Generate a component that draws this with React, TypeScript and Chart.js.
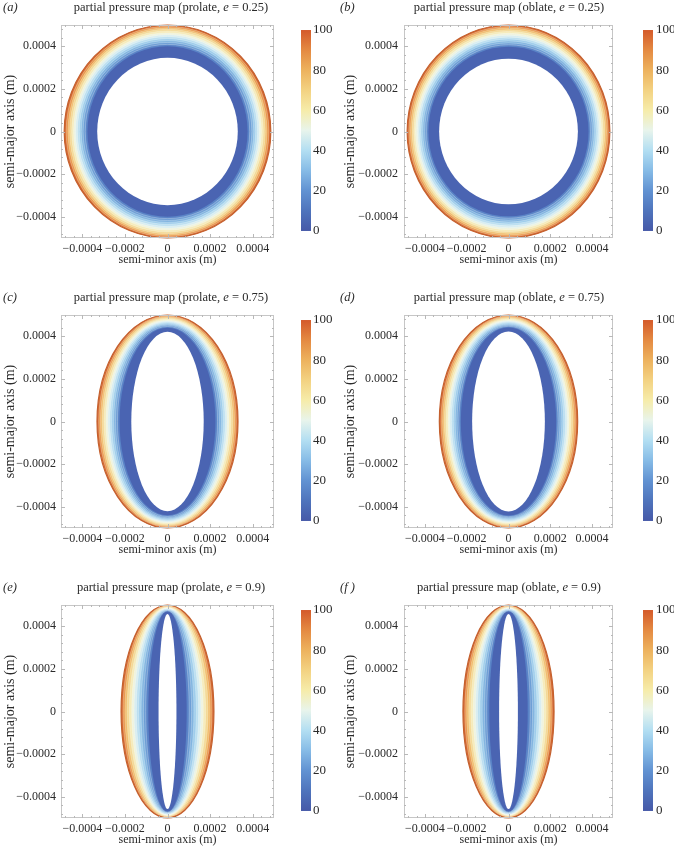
import React, { useEffect, useRef } from "react";
import { Chart, registerables } from "chart.js";

Chart.register(...registerables);

// ---------- data ----------
const AXIS_TICKS = [-0.0004, -0.0002, 0, 0.0002, 0.0004];
const CB_TICKS = [0, 20, 40, 60, 80, 100];
const CONTOUR_LEVELS = [0, 10, 17.5, 25, 32.5, 40, 47.5, 55, 62.5, 70, 77.5, 85, 92.5, 100];

// colour map of the colour bar (value, colour)
const CMAP_VALUES = [0, 10, 20, 30, 40, 50, 60, 70, 80, 90, 100];
const CMAP_COLORS = ["#4659a8", "#4f74bc", "#6192d2", "#86bbe6", "#b2def2", "#e8f4ec", "#f6ecaa", "#f3d282", "#edb25e", "#e48a42", "#d45a2a"];

// fill colours of the bands between successive contour levels (inner -> outer)
const BAND_COLORS = ["#4a64b2", "#5a84c7", "#6d9ed5", "#82b5e0", "#9ecdeb", "#bbdff0", "#d8edf0", "#eef3df", "#f5ebba", "#f3d995", "#f0bd6c", "#e8974b", "#d4672f"];

// semi-minor (b) and semi-major (a) of each contour, units of 1e-4 m
const PROLATE_025_B = [3.30, 3.76, 3.86, 3.96, 4.05, 4.14, 4.23, 4.32, 4.41, 4.50, 4.59, 4.67, 4.76, 4.85];
const PROLATE_025_A = [3.46, 4.00, 4.09, 4.18, 4.27, 4.36, 4.45, 4.54, 4.63, 4.72, 4.80, 4.87, 4.94, 5.00];
const OBLATE_025_B = [3.32, 3.83, 3.92, 4.01, 4.10, 4.19, 4.28, 4.36, 4.45, 4.53, 4.61, 4.69, 4.77, 4.85];
const OBLATE_025_A = [3.42, 3.98, 4.07, 4.16, 4.25, 4.34, 4.43, 4.52, 4.61, 4.70, 4.78, 4.86, 4.93, 5.00];
const PROLATE_075_B = [1.70, 2.25, 2.35, 2.44, 2.53, 2.62, 2.71, 2.80, 2.89, 2.98, 3.07, 3.15, 3.23, 3.31];
const PROLATE_075_A = [4.21, 4.40, 4.46, 4.52, 4.57, 4.62, 4.67, 4.72, 4.77, 4.82, 4.87, 4.92, 4.96, 5.00];
const OBLATE_075_B = [1.74, 2.28, 2.37, 2.46, 2.55, 2.64, 2.73, 2.82, 2.90, 2.99, 3.07, 3.15, 3.23, 3.31];
const OBLATE_075_A = [4.22, 4.41, 4.47, 4.52, 4.57, 4.62, 4.67, 4.72, 4.77, 4.82, 4.87, 4.92, 4.96, 5.00];
const PROLATE_09_B = [0.42, 0.90, 1.02, 1.13, 1.24, 1.35, 1.46, 1.57, 1.68, 1.79, 1.90, 2.00, 2.09, 2.18];
const PROLATE_09_A = [4.58, 4.70, 4.73, 4.755, 4.78, 4.80, 4.825, 4.85, 4.87, 4.89, 4.92, 4.95, 4.975, 5.00];
const OBLATE_09_B = [0.45, 0.92, 1.04, 1.15, 1.26, 1.37, 1.48, 1.58, 1.69, 1.80, 1.90, 2.00, 2.09, 2.18];
const OBLATE_09_A = [4.58, 4.70, 4.73, 4.755, 4.78, 4.80, 4.825, 4.85, 4.87, 4.89, 4.92, 4.95, 4.975, 5.00];

const PANELS = [
  { label: "(a)", shape: "prolate", e: "0.25", b: PROLATE_025_B, a: PROLATE_025_A, col: 0, row: 0 },
  { label: "(b)", shape: "oblate", e: "0.25", b: OBLATE_025_B, a: OBLATE_025_A, col: 1, row: 0 },
  { label: "(c)", shape: "prolate", e: "0.75", b: PROLATE_075_B, a: PROLATE_075_A, col: 0, row: 1 },
  { label: "(d)", shape: "oblate", e: "0.75", b: OBLATE_075_B, a: OBLATE_075_A, col: 1, row: 1 },
  { label: "(e)", shape: "prolate", e: "0.9", b: PROLATE_09_B, a: PROLATE_09_A, col: 0, row: 2 },
  { label: "(f )", shape: "oblate", e: "0.9", b: OBLATE_09_B, a: OBLATE_09_A, col: 1, row: 2 },
];

// ---------- layout ----------
const PW = 337;
const PH = 290;
const COLS = [
  { plotLeft: 61, plotRight: 274, cbLeft: 301, labelX: 313, titleX: 171, yTitleOff: 2, yTickPad: 5 },
  { plotLeft: 67, plotRight: 276, cbLeft: 306, labelX: 319, titleX: 172, yTitleOff: 5, yTickPad: 6 },
];
const FONT_FAMILY = "'Liberation Serif', 'Times New Roman', serif";
const TEXT_COLOR = "#2a2a2a";

function fmt(v: number) {
  if (Math.abs(v) < 1e-12) return "0";
  return (v < 0 ? "\u2212" : "") + Math.abs(v).toFixed(4);
}

function noPad(s: any) {
  s.paddingTop = 0;
  s.paddingBottom = 0;
  s.paddingLeft = 0;
  s.paddingRight = 0;
}

function Panel({ p }: { p: any }) {
  const ref = useRef<HTMLCanvasElement>(null);
  useEffect(() => {
    const c = COLS[p.col];
    const font = { family: FONT_FAMILY, size: 12 };

    const datasets = p.b.map((bv: number, i: number) => ({
      label: "level " + CONTOUR_LEVELS[i],
      data: [{ x: bv * 1e-4, y: p.a[i] * 1e-4 }],
      pointRadius: 0,
      showLine: false,
      backgroundColor: i === 0 ? "#ffffff" : BAND_COLORS[i - 1],
    }));

    const contourPlugin = {
      id: "contours",
      beforeDatasetsDraw(chart: any) {
        const { ctx } = chart;
        const xs = chart.scales.x;
        const ys = chart.scales.y;
        const cx = xs.getPixelForValue(0);
        const cy = ys.getPixelForValue(0);
        const ds = chart.data.datasets;
        const ell = (pt: any) => {
          const rx = xs.getPixelForValue(pt.x) - cx;
          const ry = cy - ys.getPixelForValue(pt.y);
          ctx.beginPath();
          ctx.ellipse(cx, cy, rx, ry, 0, 0, Math.PI * 2);
        };
        ctx.save();
        for (let i = ds.length - 1; i >= 0; i--) {
          ell(ds[i].data[0]);
          ctx.fillStyle = ds[i].backgroundColor;
          ctx.fill();
        }
        for (let i = 2; i < ds.length - 1; i++) {
          ell(ds[i].data[0]);
          ctx.strokeStyle = "rgba(255,255,255,0.45)";
          ctx.lineWidth = 0.6;
          ctx.stroke();
        }
        ell(ds[ds.length - 1].data[0]);
        ctx.strokeStyle = "#c4602e";
        ctx.lineWidth = 1.2;
        ctx.stroke();
        ctx.restore();
      },
      afterDraw(chart: any) {
        const { ctx, chartArea: ca } = chart;
        const xs = chart.scales.x;
        const ys = chart.scales.y;
        const cb = chart.scales.cb;
        ctx.save();
        // frame
        ctx.strokeStyle = "#c6c6c6";
        ctx.lineWidth = 1;
        ctx.strokeRect(Math.round(ca.left) + 0.5, Math.round(ca.top) + 0.5, Math.round(ca.right - ca.left) - 1, Math.round(ca.bottom - ca.top) - 1);
        // ticks (major + minor), inward, all four sides
        const minor: number[] = [];
        for (let k = -12; k <= 12; k++) if (k % 5 !== 0) minor.push(k * 0.00004);
        const drawTicks = (vals: number[], len: number) => {
          ctx.beginPath();
          vals.forEach((v) => {
            const px = Math.round(xs.getPixelForValue(v)) + 0.5;
            const py = Math.round(ys.getPixelForValue(v)) + 0.5;
            ctx.moveTo(px, ca.bottom); ctx.lineTo(px, ca.bottom - len);
            ctx.moveTo(px, ca.top); ctx.lineTo(px, ca.top + len);
            ctx.moveTo(ca.left, py); ctx.lineTo(ca.left + len, py);
            ctx.moveTo(ca.right, py); ctx.lineTo(ca.right - len, py);
          });
          ctx.stroke();
        };
        ctx.strokeStyle = "#b8b8b8";
        drawTicks(AXIS_TICKS, 4);
        drawTicks(minor, 2);
        // colour bar
        const y0 = cb.getPixelForValue(0);
        const y1 = cb.getPixelForValue(100);
        const g = ctx.createLinearGradient(0, y0, 0, y1);
        CMAP_VALUES.forEach((v, i) => g.addColorStop(v / 100, CMAP_COLORS[i]));
        ctx.fillStyle = g;
        ctx.fillRect(c.cbLeft, y1, 10, y0 - y1);
        // title with italic e
        const parts = [
          { t: "partial pressure map (" + p.shape + ", ", it: false },
          { t: "e", it: true },
          { t: " = " + p.e + ")", it: false },
        ];
        const fUp = "12.5px " + FONT_FAMILY;
        const fIt = "italic 12.5px " + FONT_FAMILY;
        let total = 0;
        parts.forEach((q) => { ctx.font = q.it ? fIt : fUp; total += ctx.measureText(q.t).width; });
        let x = c.titleX - total / 2;
        ctx.fillStyle = TEXT_COLOR;
        ctx.textBaseline = "middle";
        ctx.textAlign = "left";
        parts.forEach((q) => { ctx.font = q.it ? fIt : fUp; ctx.fillText(q.t, x, 8); x += ctx.measureText(q.t).width; });
        ctx.font = fIt;
        ctx.fillText(p.label, 3, 8);
        ctx.restore();
      },
    };

    const chart = new Chart(ref.current as HTMLCanvasElement, {
      type: "scatter",
      data: { datasets },
      options: {
        animation: false,
        responsive: false,
        devicePixelRatio: 1,
        layout: { padding: { top: 25, left: 0, right: 0, bottom: 0 } },
        plugins: { legend: { display: false }, tooltip: { enabled: false }, title: { display: false } },
        scales: {
          x: {
            type: "linear",
            min: -0.0005,
            max: 0.0005,
            afterBuildTicks: (s: any) => { s.ticks = AXIS_TICKS.map((v) => ({ value: v })); },
            afterFit: (s: any) => { s.height = PH - 238; noPad(s); },
            grid: { display: false, drawTicks: false },
            border: { display: false },
            ticks: { callback: (v: any) => fmt(Number(v)), font, color: TEXT_COLOR, padding: 4, maxRotation: 0, autoSkip: false },
            title: { display: true, text: "semi-minor axis (m)", font, color: TEXT_COLOR, padding: { top: 0, bottom: 23 } },
          },
          y: {
            type: "linear",
            position: "left",
            min: -0.0005,
            max: 0.0005,
            afterBuildTicks: (s: any) => { s.ticks = AXIS_TICKS.map((v) => ({ value: v })); },
            afterFit: (s: any) => { s.width = c.plotLeft; noPad(s); },
            grid: { display: false, drawTicks: false },
            border: { display: false },
            ticks: { callback: (v: any) => fmt(Number(v)), font, color: TEXT_COLOR, padding: c.yTickPad, autoSkip: false },
            title: { display: true, text: "semi-major axis (m)", font: { family: FONT_FAMILY, size: 14 }, color: TEXT_COLOR, padding: { top: c.yTitleOff, bottom: 0 } },
          },
          cb: {
            type: "linear",
            position: "right",
            min: -3.5,
            max: 102.5,
            afterBuildTicks: (s: any) => { s.ticks = CB_TICKS.map((v) => ({ value: v })); },
            afterFit: (s: any) => { s.width = PW - c.plotRight; noPad(s); },
            grid: { display: false, drawTicks: false },
            border: { display: false },
            ticks: { font: { family: FONT_FAMILY, size: 13 }, color: TEXT_COLOR, padding: c.labelX - c.plotRight, autoSkip: false },
          },
        },
      } as any,
      plugins: [contourPlugin],
    });
    return () => chart.destroy();
  }, [p]);

  return (
    <canvas
      ref={ref}
      width={PW}
      height={PH}
      style={{ position: "absolute", left: p.col * PW, top: p.row * PH, width: PW, height: PH }}
    />
  );
}

export default function App() {
  return (
    <div style={{ position: "absolute", left: 0, top: 0, width: 674, height: 850, background: "#ffffff" }}>
      {PANELS.map((p) => (
        <Panel key={p.label} p={p} />
      ))}
    </div>
  );
}
